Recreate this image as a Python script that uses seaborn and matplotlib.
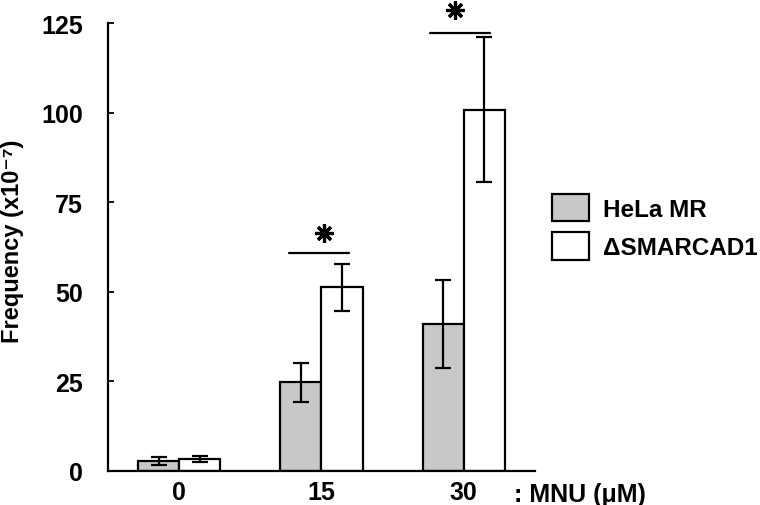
import matplotlib
matplotlib.use("Agg")
import matplotlib.pyplot as plt
import seaborn as sns
import pandas as pd
from matplotlib.patches import Patch

doses = ["0", "15", "30"]
groups = ["HeLa MR", "ΔSMARCAD1"]
hela_mean = [2.7, 24.7, 41.0]
hela_err = [1.0, 5.4, 12.2]
smarc_mean = [3.3, 51.2, 100.9]
smarc_err = [0.85, 6.7, 20.2]
yticks = [0, 25, 50, 75, 100, 125]

sns.set_theme(style="white")
plt.rcParams['font.family'] = ['Liberation Sans', 'DejaVu Sans']
plt.rcParams['font.weight'] = 'bold'
plt.rcParams['text.color'] = 'black'
plt.rcParams['axes.labelcolor'] = 'black'
plt.rcParams['xtick.color'] = 'black'
plt.rcParams['ytick.color'] = 'black'

df = pd.DataFrame({
    "dose": doses * 2,
    "group": [groups[0]] * 3 + [groups[1]] * 3,
    "value": hela_mean + smarc_mean,
})
errs = hela_err + smarc_err

fig = plt.figure(figsize=(7.6, 5.06), dpi=100)
ax = fig.add_axes([0.1421, 0.0678, 0.5618, 0.884])

palette = {groups[0]: "#c8c8c8", groups[1]: "#ffffff"}
sns.barplot(data=df, x="dose", y="value", hue="group", order=doses,
            hue_order=groups, palette=palette, width=0.58,
            edgecolor="black", linewidth=1.6, errorbar=None,
            legend=False, ax=ax, saturation=1)

# error bars at bar centers
bars = [p for p in ax.patches]
for bar, e in zip(bars, errs):
    xc = bar.get_x() + bar.get_width() / 2
    h = bar.get_height()
    ax.errorbar(xc, h, yerr=e, fmt="none", ecolor="black",
                elinewidth=1.6, capsize=5.5, capthick=1.6, zorder=5)

ax.set_xlim(-0.5, 2.5)
ax.set_ylim(0, 125)
ax.set_yticks(yticks)
ax.set_yticklabels([str(t) for t in yticks], fontsize=18, fontweight="bold",
                   color="black")
ax.set_xticks(range(len(doses)))
ax.set_xticklabels(doses, fontsize=18, fontweight="bold", color="black")
ax.tick_params(axis="y", which="major", left=True, length=4, width=1.3,
               direction="in", pad=18, color="black", labelcolor="black")
ax.tick_params(axis="x", bottom=False, length=0, pad=7, labelcolor="black")
for s in ["top", "right"]:
    ax.spines[s].set_visible(False)
for s in ["left", "bottom"]:
    ax.spines[s].set_color("black")
    ax.spines[s].set_linewidth(1.6)

ax.set_xlabel("")
ax.set_ylabel("Frequency (x10⁻⁷)", fontsize=17, fontweight="bold", color="black")
ax.yaxis.set_label_coords(-0.196, 0.5145)

ax.text(1.0 - 0.05, -0.026, ": MNU (μM)", transform=ax.transAxes, fontsize=18,
        fontweight="bold", ha="left", va="top", color="black")

# significance markers
sig_x0 = [0.774, 1.765]
sig_x1 = [1.192, 2.185]
sig_y = [60.8, 122.2]
star_x = [1.018, 1.94]
star_y = [66.3, 128.8]
for a, b, y in zip(sig_x0, sig_x1, sig_y):
    ax.plot([a, b], [y, y], color="black", lw=1.6, clip_on=False)
ax.plot(star_x, star_y, linestyle="none", marker=(8, 2, 0), markersize=13,
        markeredgewidth=2.3, color="black", clip_on=False)

handles = [Patch(facecolor=palette[g], edgecolor="black", linewidth=1.6, label=g)
           for g in groups]
leg = fig.legend(handles=handles, loc="upper left", bbox_to_anchor=(0.726, 0.6146),
                 frameon=False, prop={"size": 17.5, "weight": "bold"},
                 handlelength=1.52, handleheight=1.36, handletextpad=0.58,
                 labelspacing=0.45, borderpad=0, borderaxespad=0)
for t in leg.get_texts():
    t.set_color("black")

fig.savefig("out.png", dpi=100)
